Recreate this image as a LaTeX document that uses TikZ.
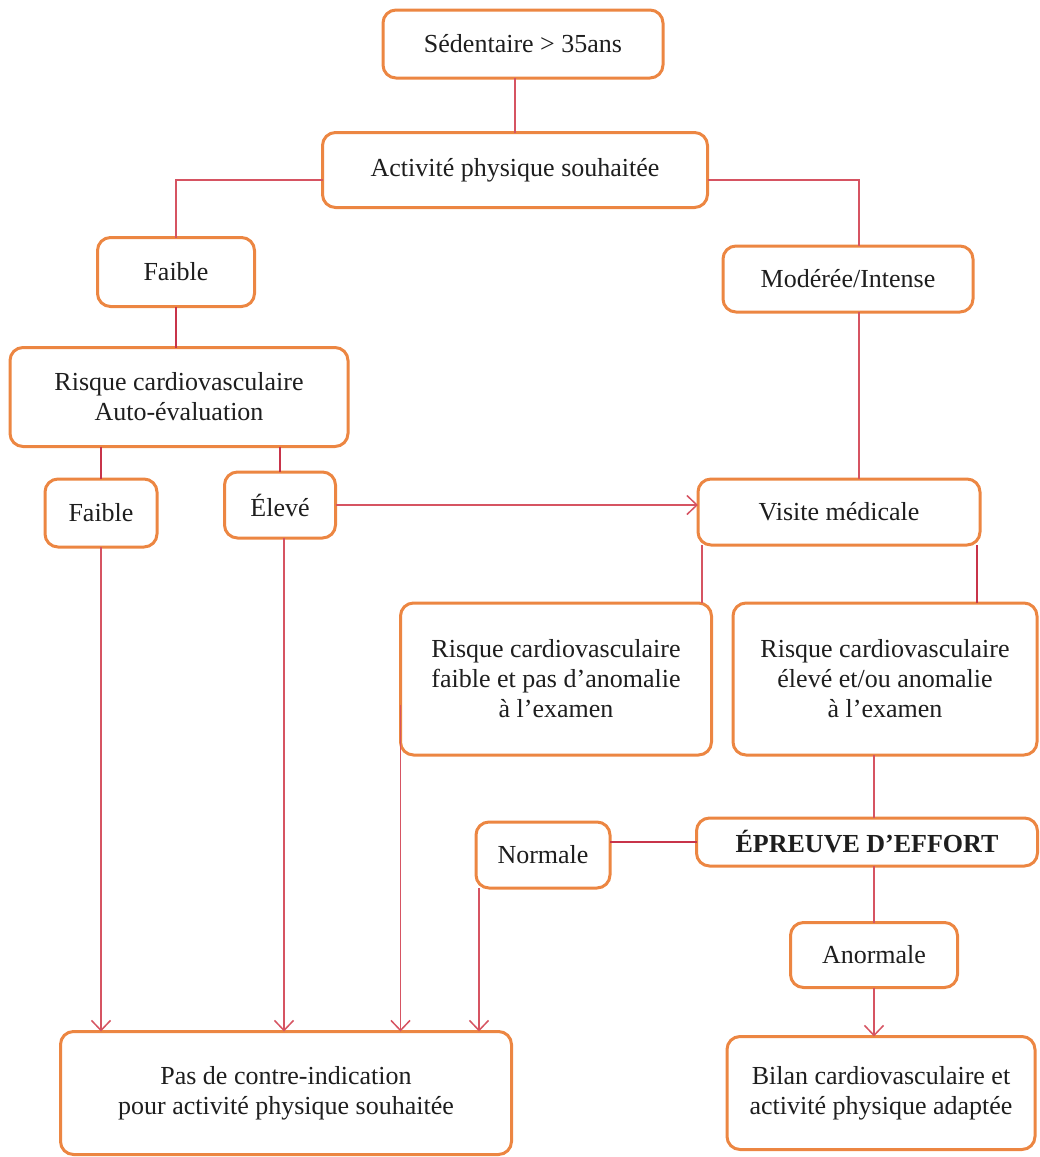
\documentclass[tikz,border=0pt]{standalone}
\usepackage{fontspec}
\setmainfont{Liberation Serif}
\usetikzlibrary{arrows.meta}
\definecolor{boxline}{RGB}{236,134,66}
\definecolor{linkred}{RGB}{214,84,98}
\definecolor{linkdark}{RGB}{200,52,74}
\definecolor{ink}{RGB}{30,30,30}
\begin{document}
\begin{tikzpicture}[x=1pt,y=-1pt,
  box/.style={draw=boxline, line width=3pt, rounded corners=13pt, fill=white,
    inner sep=0pt, outer sep=0pt, align=center, text=ink,
    font=\fontsize{26}{30}\selectfont},
  link/.style={draw=linkred, line width=1.4pt},
  linkthick/.style={draw=linkdark, line width=2.6pt},
  arrowlink/.style={link, -{Straight Barb[length=10pt,width=19pt,line width=1.5pt]}},
]
\useasboundingbox (0,0) rectangle (1040,1157);

% boxes
\node[box, minimum width=280pt, minimum height=68pt] (sed) at (523,44) {Sédentaire > 35ans};
\node[box, minimum width=385pt, minimum height=75pt] (act) at (515,170) {Activité physique souhaitée};
\node[box, minimum width=157pt, minimum height=69pt] (fai1) at (176,272) {Faible};
\node[box, minimum width=250pt, minimum height=66pt] (mod) at (848,279) {Modérée/Intense};
\node[box, minimum width=338pt, minimum height=99pt] (rau) at (179,397) {Risque cardiovasculaire\\Auto-évaluation};
\node[box, minimum width=112pt, minimum height=68pt] (fai2) at (101,513) {Faible};
\node[box, minimum width=111pt, minimum height=66pt] (ele) at (280,505) {Élevé};
\node[box, minimum width=282pt, minimum height=66pt] (vis) at (839,512) {Visite médicale};
\node[box, minimum width=311pt, minimum height=152pt] (rfa) at (556,679) {Risque cardiovasculaire\\faible et pas d’anomalie\\à l’examen};
\node[box, minimum width=304pt, minimum height=152pt] (rel) at (885,679) {Risque cardiovasculaire\\élevé et/ou anomalie\\à l’examen};
\node[box, minimum width=341pt, minimum height=48pt, font=\fontsize{26}{30}\selectfont\bfseries] (epr) at (867,842) {ÉPREUVE D’EFFORT};
\node[box, minimum width=134pt, minimum height=66pt] (nor) at (543,855) {Normale};
\node[box, minimum width=167pt, minimum height=65pt] (ano) at (874,955) {Anormale};
\node[box, minimum width=451pt, minimum height=123pt] (pas) at (286,1093) {Pas de contre-indication\\pour activité physique souhaitée};
\node[box, minimum width=308pt, minimum height=113pt] (bil) at (881,1093) {Bilan cardiovasculaire et\\activité physique adaptée};

% free ends of connectors leaving a box side
\coordinate (rfaout) at ([yshift=-26pt]rfa.west);
\coordinate (norout) at ([xshift=3pt]nor.south west);
\coordinate (eleout) at ([xshift=4pt]ele.south);
\coordinate (visl) at ([xshift=4pt]vis.south west);
\coordinate (visr) at ([xshift=-3pt]vis.south east);
\coordinate (modin) at ([xshift=11pt]mod.north);
\coordinate (modout) at ([xshift=11pt]mod.south);

% upper branches
\draw[link] (sed.south -| act.north) -- (act.north);
\draw[link] ([yshift=-10pt]act.west) -| (fai1.north);
\draw[link] ([yshift=-10pt]act.east) -| (modin);
\draw[link] (modout) -- (modout |- vis.north);

% self-assessment branch
\draw[linkthick] (fai1.south) -- (fai1.south |- rau.north);
\draw[linkthick] (rau.south -| fai2.north) -- (fai2.north);
\draw[linkthick] (rau.south -| ele.north) -- (ele.north);
\draw[arrowlink] (ele.east) -- (ele.east -| vis.west);

% medical visit branch
\draw[link] (visl) -- (visl |- rfa.north);
\draw[linkthick] (visr) -- (visr |- rel.north);
\draw[link] (rel.south -| ano.north) -- (ano.north |- epr.north);
\draw[link] (epr.south -| ano.north) -- (ano.north);
\draw[arrowlink] (ano.south) -- (ano.south |- bil.north);
\draw[linkthick] (epr.west -| nor.east) -- (epr.west);

% arrows into the final box
\draw[arrowlink] (fai2.south) -- (fai2.south |- pas.north);
\draw[arrowlink] (eleout) -- (eleout |- pas.north);
\draw[arrowlink] (rfaout) -- (rfaout |- pas.north);
\draw[arrowlink] (norout) -- (norout |- pas.north);
\end{tikzpicture}
\end{document}
